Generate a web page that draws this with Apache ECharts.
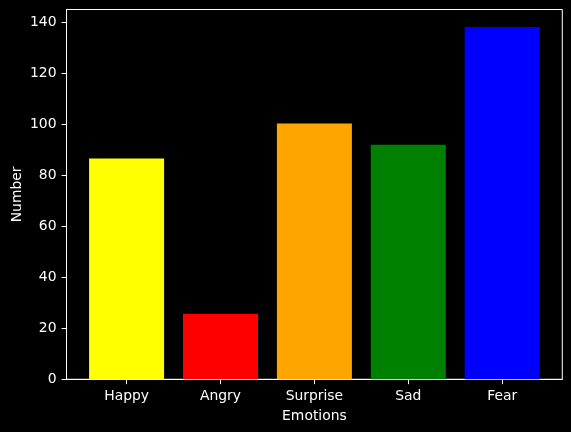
<!DOCTYPE html>
<html>
<head>
<meta charset="utf-8">
<script src="https://cdn.jsdelivr.net/npm/echarts@6/dist/echarts.min.js"></script>
<style>
  html, body { margin: 0; padding: 0; background: #000; }
  #chart { width: 571px; height: 432px; }
</style>
</head>
<body>
<div id="chart"></div>
<script>
const categories = ['Happy', 'Angry', 'Surprise', 'Sad', 'Fear'];
const counts = [86.7, 25.7, 100.4, 92.1, 138.3];
const barColors = ['#ffff00', '#ff0000', '#ffa500', '#008000', '#0000ff'];
const yTicks = [0, 20, 40, 60, 80, 100, 120, 140];
const xPositions = [0, 1, 2, 3, 4];

const chart = echarts.init(document.getElementById('chart'));
const font = 'DejaVu Sans';

chart.setOption({
    backgroundColor: '#000',
    animation: false,
    grid: {
        left: 66.5,
        right: 8.7,
        top: 9.5,
        bottom: 52.7,
        outerBoundsMode: 'none',
        containLabel: false,
        show: true,
        borderColor: '#fff',
        borderWidth: 1,
        backgroundColor: '#000'
    },
    xAxis: {
        type: 'value',
        min: -0.64,
        max: 4.64,
        name: 'Emotions',
        nameLocation: 'middle',
        nameGap: 30,
        nameMoveOverlap: false,
        nameTextStyle: { color: '#fff', fontFamily: font, fontSize: 13.9 },
        splitLine: { show: false },
        axisLine: { show: true, onZero: false, lineStyle: { color: '#fff', width: 1 } },
        axisTick: {
            show: true,
            customValues: xPositions,
            length: 4.9,
            lineStyle: { color: '#fff', width: 1 }
        },
        axisLabel: {
            customValues: xPositions,
            color: '#fff',
            fontFamily: font,
            fontSize: 13.9,
            margin: 10,
            formatter: function (v) { return categories[Math.round(v)] || ''; }
        }
    },
    yAxis: {
        type: 'value',
        min: 0,
        max: 145.2,
        name: 'Number',
        nameLocation: 'middle',
        nameGap: 42,
        nameMoveOverlap: false,
        nameTextStyle: { color: '#fff', fontFamily: font, fontSize: 13.9 },
        splitLine: { show: false },
        axisLine: { show: true, onZero: false, lineStyle: { color: '#fff', width: 1 } },
        axisTick: {
            show: true,
            customValues: yTicks,
            length: 4.9,
            lineStyle: { color: '#fff', width: 1 }
        },
        axisLabel: {
            customValues: yTicks,
            color: '#fff',
            fontFamily: font,
            fontSize: 13.9,
            margin: 10
        }
    },
    series: [
        {
            type: 'bar',
            barWidth: 75,
            data: counts.map(function (v, i) {
                return { value: [xPositions[i], v], itemStyle: { color: barColors[i] } };
            })
        }
    ]
});
</script>
</body>
</html>
